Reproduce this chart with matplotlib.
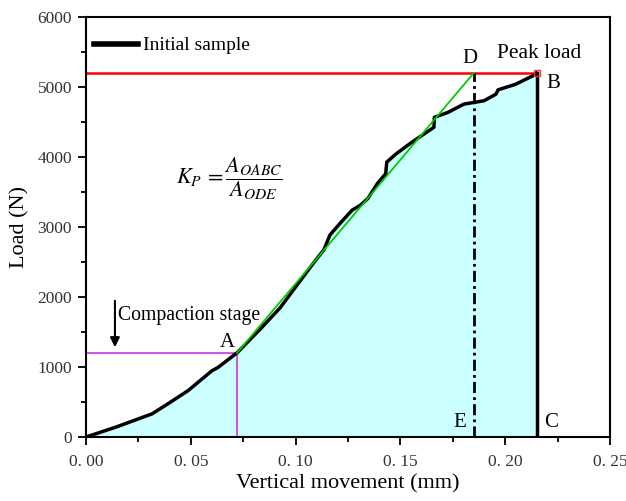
import matplotlib.pyplot as plt
import numpy as np

plt.rcParams['font.family'] = ['Liberation Serif', 'DejaVu Serif']
plt.rcParams['mathtext.fontset'] = 'stix'

# load-displacement curve of the initial sample
disp = [0.0, 0.0143, 0.0315, 0.039, 0.0487, 0.0601, 0.063, 0.0716, 0.072,
        0.083, 0.0926, 0.102, 0.1097, 0.1135, 0.1164, 0.1212, 0.127, 0.131,
        0.1345, 0.139, 0.143, 0.1435, 0.148, 0.1555, 0.166, 0.1662, 0.1727,
        0.1803, 0.1899, 0.1956, 0.1966, 0.205, 0.2147, 0.215]
load = [0, 142, 331, 473, 663, 947, 994, 1193, 1200,
        1538, 1846, 2224, 2532, 2674, 2887, 3052, 3242, 3313,
        3408, 3620, 3762, 3928, 4046, 4212, 4425, 4567, 4638,
        4756, 4804, 4898, 4960, 5040, 5182, 5200]

pointA = (0.072, 1200)
pointB = (0.215, 5200)
pointD = (0.185, 5200)
xticks = [0.0, 0.05, 0.10, 0.15, 0.20, 0.25]
xticklabels = ['0. 00', '0. 05', '0. 10', '0. 15', '0. 20', '0. 25']
yticks = [0, 1000, 2000, 3000, 4000, 5000, 6000]

fig = plt.figure(figsize=(6.26, 5.01), dpi=100)
ax = fig.add_axes([0.1374, 0.1277, 0.837, 0.8383])

# shaded area under curve
ax.fill_between(disp, load, 0, color='#ccffff', zorder=1)

# reference lines
ax.plot([0, pointB[0]], [pointB[1], pointB[1]], color='#ff0000', lw=1.8, zorder=2)
ax.plot([0, pointA[0]], [pointA[1], pointA[1]], color='#cc44ee', lw=1.3, zorder=2)
ax.plot([pointA[0], pointA[0]], [0, pointA[1]], color='#cc44ee', lw=1.3, zorder=2)
ax.plot([pointD[0], pointD[0]], [0, pointD[1]], color='black', lw=2,
        linestyle=(0, (4, 1.5, 1, 1.5)), zorder=3)
ax.plot([pointA[0], pointD[0]], [pointA[1], pointD[1]], color='#00cc00', lw=1.3, zorder=4)

# main curve
ax.plot(disp, load, color='black', lw=2.5, solid_joinstyle='round', zorder=3,
        label='Initial sample')
ax.plot([pointB[0], pointB[0]], [0, pointB[1]], color='black', lw=2.5, zorder=3)
ax.plot(pointB[0], pointB[1], marker='s', ms=5, mfc='none', mec='#ff3333', mew=1, zorder=5)

# annotations
ax.annotate('', xy=(0.0138, 1243), xytext=(0.0138, 1986),
            arrowprops=dict(arrowstyle='-|>', color='black', lw=1.5, mutation_scale=14))
ax.text(0.0155, 1743, 'Compaction stage', fontsize=14.2, va='center')
ax.text(0.0673, 1357, 'A', fontsize=15, ha='center', va='center')
ax.text(0.1832, 5414, 'D', fontsize=15, ha='center', va='center')
ax.text(0.2228, 5057, 'B', fontsize=15, ha='center', va='center')
ax.text(0.2219, 214, 'C', fontsize=15, ha='center', va='center')
ax.text(0.1784, 214, 'E', fontsize=15, ha='center', va='center')
ax.text(0.2164, 5486, 'Peak load', fontsize=15.5, ha='center', va='center')
ax.text(0.043, 3700, r'$K_P\,=\dfrac{A_{OABC}}{A_{ODE}}$', fontsize=16, va='center')

leg = ax.legend(loc='center left', frameon=False, fontsize=14, handlelength=2.26,
                handletextpad=0.26, borderpad=0, borderaxespad=0,
                bbox_to_anchor=(0.0153, 0.932))
for line in leg.get_lines():
    line.set_linewidth(4)

ax.set_xlim(0, 0.25)
ax.set_ylim(0, 6000)
ax.set_xticks(xticks)
ax.set_xticklabels(xticklabels)
ax.set_yticks(yticks)
ax.set_xticks(np.arange(0.025, 0.25, 0.05), minor=True)
ax.set_yticks(np.arange(500, 6000, 1000), minor=True)
ax.tick_params(which='both', direction='out', width=1.3, colors='black', labelcolor='#333333',
               labelsize=12.5, top=False, right=False)
ax.tick_params(which='major', length=6)
ax.tick_params(which='minor', length=3.5)
ax.tick_params(axis='x', pad=6)
ax.tick_params(axis='y', pad=4)
for s in ax.spines.values():
    s.set_linewidth(1.5)

ax.set_xlabel('Vertical movement (mm)', fontsize=16, labelpad=3)
ax.set_ylabel('Load (N)', fontsize=16, labelpad=6)

fig.savefig('out.png', dpi=100)
